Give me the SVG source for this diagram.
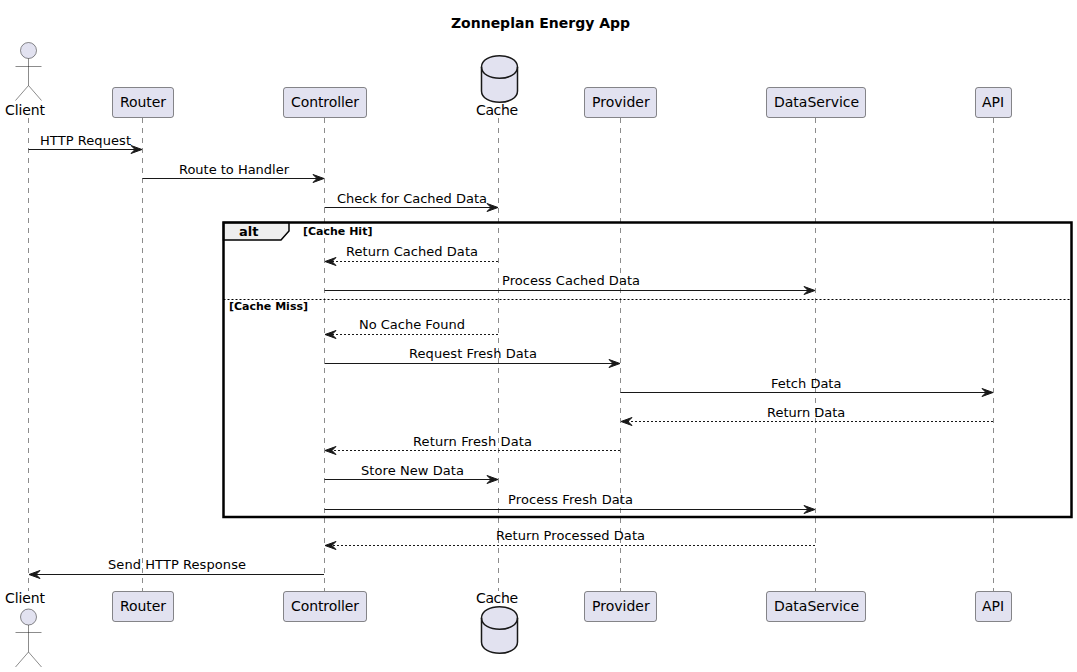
<svg xmlns="http://www.w3.org/2000/svg" width="1077" height="672" viewBox="0 0 1077 672">
<style>
text{font-family:"DejaVu Sans",sans-serif;fill:#000}
.m{font-size:13px}
.p{font-size:14px}
.g{font-size:11px;font-weight:bold}
.life{stroke:#181818;stroke-width:.5;stroke-dasharray:5 5;fill:none}
.box{fill:#E2E2F0;stroke:#181818;stroke-width:.5}
.act{fill:none;stroke:#181818;stroke-width:.5}
.db{fill:#E2E2F0;stroke:#181818;stroke-width:1.5}
.dbl{fill:none;stroke:#181818;stroke-width:1.5}
.msg{stroke:#181818;stroke-width:1;fill:none}
.ret{stroke-dasharray:2 2}
.head{fill:#181818;stroke:#181818;stroke-width:1}
</style>
<defs>
<polygon id="hr" class="head" points="0,0 -11,-4 -7,0 -11,4"/>
<polygon id="hl" class="head" points="0,0 11,-4 7,0 11,4"/>
</defs>
<rect width="1077" height="672" fill="#fff"/>
<text x="540.5" y="28" text-anchor="middle" style="font-size:14px;font-weight:bold">Zonneplan Energy App</text>
<g id="lifelines">
<line class="life" x1="28.5" y1="118" x2="28.5" y2="591"/>
<line class="life" x1="142.5" y1="118" x2="142.5" y2="591"/>
<line class="life" x1="324.5" y1="118" x2="324.5" y2="591"/>
<line class="life" x1="498.5" y1="118" x2="498.5" y2="591"/>
<line class="life" x1="620.5" y1="118" x2="620.5" y2="591"/>
<line class="life" x1="815.5" y1="118" x2="815.5" y2="591"/>
<line class="life" x1="993.5" y1="118" x2="993.5" y2="591"/>
</g>
<g id="node-client-top">
<circle class="box" cx="28.5" cy="50.5" r="8"/>
<path class="act" d="M28.5 58.5V85.5M15.5 66.5H41.5M28.5 85.5L15.5 100.5M28.5 85.5L41.5 100.5"/>
<text class="p" x="5" y="115" textLength="40">Client</text>
</g>
<g id="node-client-bottom">
<text class="p" x="5" y="603" textLength="40">Client</text>
<circle class="box" cx="28.5" cy="617" r="8"/>
<path class="act" d="M28.5 625V652M15.5 632.5H41.5M28.5 652L15.5 667M28.5 652L41.5 667"/>
</g>
<g id="node-router-top"><rect class="box" x="112.5" y="87.5" width="61" height="30" rx="2.5"/><text class="p" x="120" y="107" textLength="46">Router</text></g>
<g id="node-router-bottom"><rect class="box" x="112.5" y="591.5" width="61" height="30" rx="2.5"/><text class="p" x="120" y="611" textLength="46">Router</text></g>
<g id="node-controller-top"><rect class="box" x="283.5" y="87.5" width="83" height="30" rx="2.5"/><text class="p" x="291" y="107" textLength="68">Controller</text></g>
<g id="node-controller-bottom"><rect class="box" x="283.5" y="591.5" width="83" height="30" rx="2.5"/><text class="p" x="291" y="611" textLength="68">Controller</text></g>
<g id="node-cache-top">
<path class="db" d="M481.5 67c0-15 36-15 36 0v24c0 15-36 15-36 0z"/>
<path class="dbl" d="M481.5 67c0 15 36 15 36 0"/>
<text class="p" x="476" y="115" textLength="42">Cache</text>
</g>
<g id="node-cache-bottom">
<text class="p" x="476" y="603" textLength="42">Cache</text>
<path class="db" d="M481.5 618c0-15 36-15 36 0v24c0 15-36 15-36 0z"/>
<path class="dbl" d="M481.5 618c0 15 36 15 36 0"/>
</g>
<g id="node-provider-top"><rect class="box" x="584.5" y="87.5" width="72" height="30" rx="2.5"/><text class="p" x="592" y="107">Provider</text></g>
<g id="node-provider-bottom"><rect class="box" x="584.5" y="591.5" width="72" height="30" rx="2.5"/><text class="p" x="592" y="611">Provider</text></g>
<g id="node-dataservice-top"><rect class="box" x="766.5" y="87.5" width="99" height="30" rx="2.5"/><text class="p" x="774" y="107">DataService</text></g>
<g id="node-dataservice-bottom"><rect class="box" x="766.5" y="591.5" width="99" height="30" rx="2.5"/><text class="p" x="774" y="611">DataService</text></g>
<g id="node-api-top"><rect class="box" x="975.5" y="87.5" width="36" height="30" rx="2.5"/><text class="p" x="982" y="107">API</text></g>
<g id="node-api-bottom"><rect class="box" x="975.5" y="591.5" width="36" height="30" rx="2.5"/><text class="p" x="982" y="611">API</text></g>
<g id="alt-frame">
<path d="M223.5 222.5H289V231L281 240H223.5Z" fill="#EEEEEE" stroke="#000" stroke-width="1.5"/>
<rect x="223.5" y="222.5" width="848" height="294.5" fill="none" stroke="#000" stroke-width="2.5"/>
<text x="239" y="236" style="font-size:13px;font-weight:bold">alt</text>
<text class="g" x="303" y="235">[Cache Hit]</text>
<line x1="223.5" y1="299.5" x2="1071.5" y2="299.5" stroke="#000" stroke-width="1" stroke-dasharray="2 2"/>
<text class="g" x="229" y="310">[Cache Miss]</text>
</g>
<g id="connectors">
<line class="msg" x1="28.5" y1="149.5" x2="141" y2="149.5"/><use href="#hr" x="142" y="149.5"/>
<text class="m" x="40" y="145" textLength="91">HTTP Request</text>
<line class="msg" x1="142.5" y1="178.5" x2="323" y2="178.5"/><use href="#hr" x="324" y="178.5"/>
<text class="m" x="179" y="174" textLength="110">Route to Handler</text>
<line class="msg" x1="324.5" y1="207.5" x2="497" y2="207.5"/><use href="#hr" x="498" y="207.5"/>
<text class="m" x="337" y="203">Check for Cached Data</text>
<line class="msg ret" x1="498" y1="261.5" x2="326" y2="261.5"/><use href="#hl" x="325" y="261.5"/>
<text class="m" x="346" y="256" textLength="132">Return Cached Data</text>
<line class="msg" x1="324.5" y1="290.5" x2="814" y2="290.5"/><use href="#hr" x="815" y="290.5"/>
<text class="m" x="502" y="285" textLength="138">Process Cached Data</text>
<line class="msg ret" x1="498" y1="334.5" x2="326" y2="334.5"/><use href="#hl" x="325" y="334.5"/>
<text class="m" x="359" y="329" textLength="106">No Cache Found</text>
<line class="msg" x1="324.5" y1="363.5" x2="619" y2="363.5"/><use href="#hr" x="620" y="363.5"/>
<text class="m" x="409" y="358" textLength="128">Request Fresh Data</text>
<line class="msg" x1="620.5" y1="392.5" x2="992" y2="392.5"/><use href="#hr" x="993" y="392.5"/>
<text class="m" x="771" y="388">Fetch Data</text>
<line class="msg ret" x1="993" y1="421.5" x2="622" y2="421.5"/><use href="#hl" x="621" y="421.5"/>
<text class="m" x="767" y="417">Return Data</text>
<line class="msg ret" x1="620" y1="450.5" x2="326" y2="450.5"/><use href="#hl" x="325" y="450.5"/>
<text class="m" x="413" y="446" textLength="119">Return Fresh Data</text>
<line class="msg" x1="324.5" y1="479.5" x2="497" y2="479.5"/><use href="#hr" x="498" y="479.5"/>
<text class="m" x="361" y="475" textLength="103">Store New Data</text>
<line class="msg" x1="324.5" y1="509.5" x2="814" y2="509.5"/><use href="#hr" x="815" y="509.5"/>
<text class="m" x="508" y="504" textLength="125">Process Fresh Data</text>
<line class="msg ret" x1="815" y1="545.5" x2="326" y2="545.5"/><use href="#hl" x="325" y="545.5"/>
<text class="m" x="496" y="540" textLength="149">Return Processed Data</text>
<line class="msg" x1="324" y1="574.5" x2="30" y2="574.5"/><use href="#hl" x="29" y="574.5"/>
<text class="m" x="108" y="569" textLength="138">Send HTTP Response</text>
</g>
</svg>
